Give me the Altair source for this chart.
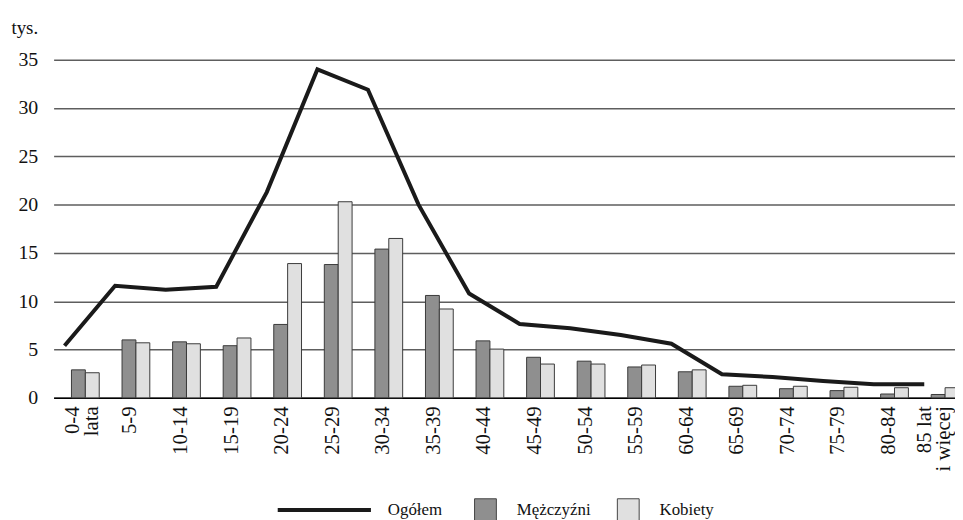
import altair as alt
import pandas as pd

categories = ["0-4\nlata", "5-9", "10-14", "15-19", "20-24", "25-29", "30-34",
              "35-39", "40-44", "45-49", "50-54", "55-59", "60-64", "65-69",
              "70-74", "75-79", "80-84", "85 lat\ni więcej"]
ogolem = [5.4, 11.6, 11.2, 11.5, 21.3, 34.0, 31.9, 20.0, 10.8, 7.65, 7.2, 6.5,
          5.6, 2.45, 2.15, 1.75, 1.4, 1.4]
mezczyzni = [2.9, 6.0, 5.8, 5.4, 7.6, 13.8, 15.4, 10.6, 5.9, 4.2, 3.8, 3.2,
             2.7, 1.2, 0.95, 0.75, 0.4, 0.35]
kobiety = [2.6, 5.7, 5.6, 6.2, 13.9, 20.3, 16.5, 9.2, 5.05, 3.5, 3.5, 3.4,
           2.9, 1.3, 1.2, 1.1, 1.05, 1.05]
sexes = ["Mężczyźni", "Kobiety"]
y_ticks = [0, 5, 10, 15, 20, 25, 30, 35]

FONT = "Liberation Serif, Times New Roman, serif"

bars_df = pd.DataFrame(
    [{"kat": c, "plec": sexes[0], "val": m} for c, m in zip(categories, mezczyzni)]
    + [{"kat": c, "plec": sexes[1], "val": k} for c, k in zip(categories, kobiety)]
)
line_df = pd.DataFrame({"kat": categories, "seria": "Ogółem", "val": ogolem})

x_scale = alt.Scale(domain=categories, range=[0, 918], paddingInner=0, paddingOuter=0)
y_scale = alt.Scale(domain=[0, 35], nice=False)

label_shift = {
    "condition": [
        {"test": "indexof(datum.value, '85') == 0", "value": -14},
        {"test": "indexof(datum.value, '\\n') >= 0", "value": -6},
    ],
    "value": 1,
}

bars = alt.Chart(bars_df).mark_bar(strokeWidth=1).encode(
    x=alt.X("kat:N", sort=categories, scale=x_scale, title=None,
            axis=alt.Axis(labelAngle=270, labelExpr="split(datum.label, '\\n')",
                          labelFont=FONT, labelFontSize=21, labelColor="#111",
                          labelLineHeight=19, labelOffset=label_shift,
                          labelPadding=8, ticks=False,
                          domainColor="#000", domainWidth=1.5, grid=False)),
    xOffset=alt.XOffset("plec:N", sort=sexes,
                        scale=alt.Scale(domain=sexes, range=[18, 46],
                                        paddingInner=0, paddingOuter=0)),
    y=alt.Y("val:Q", scale=y_scale,
            axis=alt.Axis(values=y_ticks, title="tys.", titleAngle=0,
                          titleX=-43, titleY=-26, titleAlign="left",
                          titleBaseline="alphabetic", titleFont=FONT,
                          titleFontSize=19, titleFontWeight="normal",
                          titleColor="#111", domain=False, ticks=False,
                          grid=True, gridColor="#5e5e5e", gridWidth=1.5,
                          labelPadding=16, labelFont=FONT, labelFontSize=20,
                          labelColor="#111")),
    fill=alt.Fill("plec:N", sort=sexes,
                  scale=alt.Scale(domain=sexes, range=["#8f8f8f", "#e0e0e0"]),
                  legend=alt.Legend(orient="none", legendX=424, legendY=442,
                                    direction="horizontal", title=None,
                                    symbolType="square", symbolSize=484,
                                    symbolStrokeColor="#444", symbolStrokeWidth=1,
                                    labelOffset=20, columnPadding=24,
                                    labelFont=FONT, labelFontSize=17,
                                    labelColor="#111")),
    stroke=alt.value("#3a3a3a"),
)

line = alt.Chart(line_df).mark_line(strokeWidth=4, strokeJoin="miter").encode(
    x=alt.X("kat:N", sort=categories, scale=x_scale, bandPosition=11 / 51,
            title=None),
    y=alt.Y("val:Q", scale=y_scale),
    stroke=alt.Stroke("seria:N",
                      scale=alt.Scale(domain=["Ogółem"], range=["#1a1a1a"]),
                      legend=alt.Legend(orient="none", legendX=224, legendY=405,
                                        title=None, symbolType="stroke",
                                        symbolSize=8836, symbolStrokeWidth=4,
                                        labelOffset=15, labelFont=FONT,
                                        labelFontSize=17, labelColor="#111")),
)

chart = alt.layer(bars, line).properties(
    width=909, height=341,
    autosize=alt.AutoSizeParams(type="none"),
    padding={"left": 46, "top": 50, "right": 0, "bottom": 121},
    background="white",
).configure_view(stroke=None)

chart.save("out.html", embed_options={"renderer": "svg", "actions": False})
